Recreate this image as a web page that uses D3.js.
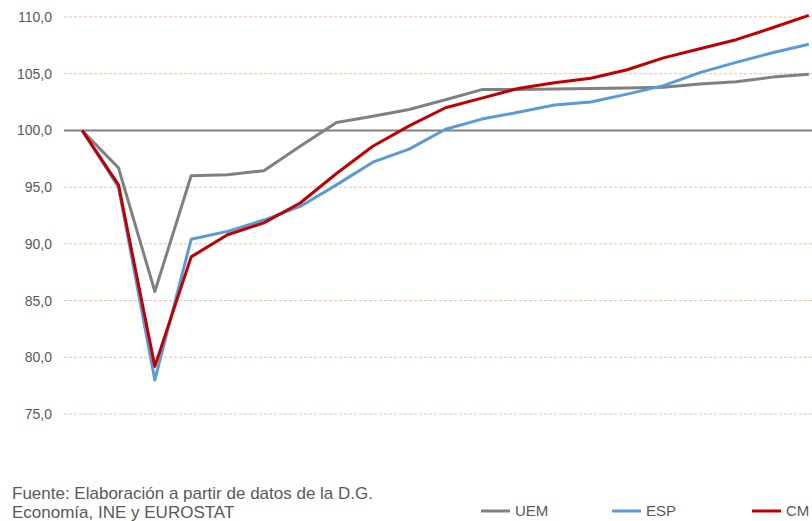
<!DOCTYPE html>
<html>
<head>
<meta charset="utf-8">
<script src="https://cdn.jsdelivr.net/npm/d3@7"></script>
<style>
  body { margin: 0; background: #fff; }
  text { font-family: "Liberation Sans", Arial, sans-serif; fill: #595959; }
</style>
</head>
<body>
<svg id="chart" width="812" height="521"></svg>
<script>
// periodos (sin etiquetas visibles en el eje)
var periodos = d3.range(21);

var uem = [100, 96.7, 85.8, 96.0, 96.1, 96.45, 98.6, 100.7, 101.25, 101.85, 102.7,
           103.6, 103.6, 103.65, 103.7, 103.75, 103.8, 104.1, 104.3, 104.7, 104.95];
var esp = [100, 95.0, 78.0, 90.4, 91.1, 92.1, 93.3, 95.2, 97.2, 98.35, 100.1,
           101.0, 101.6, 102.25, 102.5, 103.2, 103.95, 105.1, 106.0, 106.85, 107.6];
var cm  = [100, 95.2, 79.2, 88.85, 90.8, 91.85, 93.6, 96.2, 98.6, 100.4, 102.0,
           102.85, 103.7, 104.2, 104.6, 105.35, 106.4, 107.2, 108.0, 109.05, 110.15];

var yTicks = [75, 80, 85, 90, 95, 100, 105, 110];

var series = [
  {name: "UEM", values: uem, color: "#808080"},
  {name: "ESP", values: esp, color: "#5B9BD5"},
  {name: "CM",  values: cm,  color: "#C00000"}
];

var svg = d3.select("#chart");
var left = 64, right = 827;

var x = d3.scalePoint().domain(periodos).range([left, right]).padding(0.5);
var y = d3.scaleLinear().domain([75, 110]).range([414, 17]);

var fmt = function(v) { return d3.format(".1f")(v).replace(".", ","); };

// rejilla
var grid = svg.append("g");
grid.selectAll("line")
  .data(yTicks)
  .enter().append("line")
    .attr("x1", left)
    .attr("x2", 812)
    .attr("y1", function(d) { return y(d); })
    .attr("y2", function(d) { return y(d); })
    .attr("stroke", function(d) { return d === 100 ? "#808080" : "#F6BE98"; })
    .attr("stroke-width", function(d) { return d === 100 ? 2 : 1; })
    .attr("stroke-dasharray", function(d) { return d === 100 ? null : "3,2"; });

// eje y
var yAxis = svg.append("g")
  .attr("transform", "translate(52,0)")
  .call(d3.axisLeft(y).tickValues(yTicks).tickFormat(fmt).tickSize(0).tickPadding(0));
yAxis.select(".domain").remove();
yAxis.selectAll("text")
  .style("font-size", "14px")
  .style("font-family", "Liberation Sans, Arial, sans-serif")
  .attr("fill", "#595959");

// líneas
var line = d3.line()
  .x(function(d, i) { return x(periodos[i]); })
  .y(function(d) { return y(d); });

svg.append("g").selectAll("path")
  .data(series)
  .enter().append("path")
    .attr("d", function(s) { return line(s.values); })
    .attr("fill", "none")
    .attr("stroke", function(s) { return s.color; })
    .attr("stroke-width", 3)
    .attr("stroke-linejoin", "round");

// nota de fuente
var nota = svg.append("text")
  .style("font-size", "17px")
  .attr("fill", "#000");
nota.append("tspan").attr("x", 12).attr("y", 499).text("Fuente: Elaboración a partir de datos de la D.G.");
nota.append("tspan").attr("x", 12).attr("y", 518).text("Economía, INE y EUROSTAT");

// leyenda
var legX = [481, 612, 752];
var leg = svg.append("g").selectAll("g")
  .data(series)
  .enter().append("g")
    .attr("transform", function(s, i) { return "translate(" + legX[i] + ",511)"; });
leg.append("line")
  .attr("x1", 0).attr("x2", 29)
  .attr("stroke", function(s) { return s.color; })
  .attr("stroke-width", 3);
leg.append("text")
  .attr("x", 34)
  .attr("dy", "0.35em")
  .style("font-size", "15px")
  .text(function(s) { return s.name; });
</script>
</body>
</html>
